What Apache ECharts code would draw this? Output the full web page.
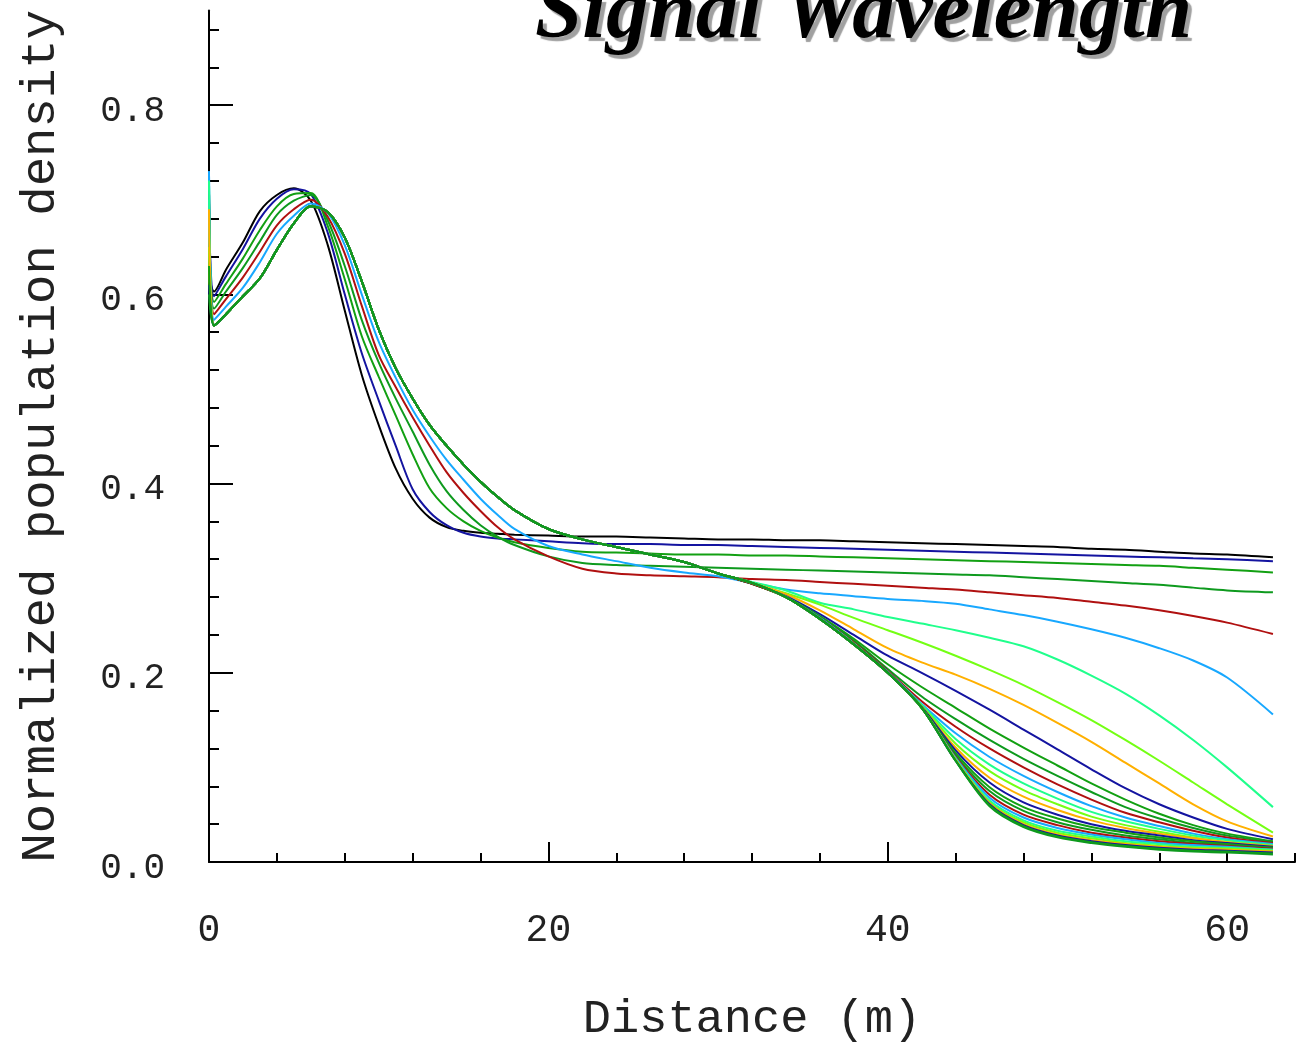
<!DOCTYPE html>
<html>
<head>
<meta charset="utf-8">
<script src="https://cdn.jsdelivr.net/npm/echarts@6/dist/echarts.min.js"></script>
<style>
  html, body { margin: 0; padding: 0; background: #ffffff; }
  #chart { width: 1301px; height: 1048px; }
</style>
</head>
<body>
<div id="chart"></div>
<script>
// Sample positions along the fibre (m)
const distance = [0, 0.3, 1, 2, 3, 4, 5, 6, 7, 8, 9, 10, 11, 12, 13, 14, 15, 16, 17, 18,
  20, 22, 24, 26, 28, 30, 32, 34, 36, 38, 40, 42, 44, 46, 48, 50, 52, 54, 56, 58, 60, 62.7];

// First six signals: full profiles
const signal01 = [0.62, 0.603, 0.626, 0.655, 0.688, 0.705, 0.712, 0.699, 0.652, 0.583, 0.515, 0.462, 0.416, 0.384, 0.364, 0.354, 0.35, 0.348, 0.347, 0.346,
  0.345, 0.344, 0.344, 0.343, 0.342, 0.341, 0.341, 0.34, 0.34, 0.339, 0.338, 0.337, 0.336, 0.335, 0.334, 0.333, 0.331, 0.33, 0.328, 0.326, 0.325, 0.322];
const signal02 = [0.69, 0.598, 0.619, 0.648, 0.68, 0.701, 0.711, 0.706, 0.665, 0.6, 0.538, 0.488, 0.44, 0.394, 0.37, 0.356, 0.348, 0.344, 0.342, 0.341,
  0.339, 0.337, 0.336, 0.336, 0.335, 0.335, 0.334, 0.333, 0.332, 0.331, 0.33, 0.329, 0.328, 0.327, 0.326, 0.325, 0.324, 0.323, 0.322, 0.321, 0.32, 0.318];
const signal03 = [0.65, 0.592, 0.611, 0.638, 0.668, 0.693, 0.706, 0.707, 0.672, 0.616, 0.556, 0.513, 0.472, 0.431, 0.395, 0.374, 0.36, 0.35, 0.343, 0.338,
  0.332, 0.328, 0.327, 0.326, 0.325, 0.325, 0.324, 0.324, 0.323, 0.322, 0.321, 0.32, 0.319, 0.318, 0.317, 0.316, 0.315, 0.314, 0.313, 0.311, 0.309, 0.306];
const signal04 = [0.63, 0.585, 0.603, 0.628, 0.656, 0.684, 0.699, 0.705, 0.678, 0.63, 0.573, 0.528, 0.49, 0.455, 0.42, 0.392, 0.372, 0.356, 0.344, 0.335,
  0.323, 0.316, 0.314, 0.313, 0.312, 0.311, 0.31, 0.309, 0.308, 0.307, 0.306, 0.305, 0.304, 0.303, 0.301, 0.299, 0.297, 0.295, 0.293, 0.29, 0.287, 0.285];
const signal05 = [0.71, 0.579, 0.595, 0.618, 0.645, 0.673, 0.69, 0.7, 0.682, 0.643, 0.588, 0.536, 0.502, 0.47, 0.44, 0.412, 0.39, 0.371, 0.354, 0.341,
  0.323, 0.31, 0.305, 0.303, 0.302, 0.301, 0.299, 0.298, 0.296, 0.294, 0.292, 0.29, 0.288, 0.285, 0.282, 0.279, 0.275, 0.271, 0.266, 0.26, 0.253, 0.241];
const signal06 = [0.73, 0.573, 0.587, 0.607, 0.634, 0.664, 0.683, 0.696, 0.686, 0.652, 0.6, 0.55, 0.512, 0.478, 0.45, 0.425, 0.404, 0.384, 0.367, 0.352,
  0.334, 0.325, 0.318, 0.311, 0.306, 0.302, 0.295, 0.288, 0.284, 0.281, 0.278, 0.276, 0.273, 0.267, 0.261, 0.254, 0.246, 0.237, 0.226, 0.213, 0.195, 0.156];

// Remaining signals share one leading profile (x = 0.3 … 28 m)
const sharedLead = [0.567, 0.579, 0.598, 0.617, 0.647, 0.675, 0.693, 0.687, 0.66, 0.614, 0.563, 0.522, 0.49, 0.462, 0.44, 0.42, 0.402, 0.386, 0.372,
  0.352, 0.341, 0.333, 0.325, 0.317];

// Launch value at x = 0 for each of signals 7 … 28
const launchValue = [0.72, 0.7, 0.68, 0.67, 0.66, 0.64, 0.7, 0.73, 0.72, 0.66, 0.69, 0.71, 0.67, 0.68, 0.64, 0.7, 0.72, 0.65, 0.69, 0.61, 0.63, 0.6];

// Tails of signals 7 … 28 (x = 30 … 62.7 m)
const tails = [
  [0.305, 0.296, 0.287, 0.274, 0.267, 0.259, 0.252, 0.245, 0.237, 0.228, 0.214, 0.197, 0.178, 0.155, 0.129, 0.1, 0.058],
  [0.305, 0.295, 0.284, 0.272, 0.258, 0.245, 0.232, 0.218, 0.203, 0.187, 0.169, 0.15, 0.129, 0.107, 0.084, 0.061, 0.031],
  [0.305, 0.295, 0.283, 0.266, 0.246, 0.226, 0.211, 0.198, 0.183, 0.166, 0.147, 0.127, 0.105, 0.083, 0.061, 0.043, 0.027],
  [0.305, 0.294, 0.281, 0.262, 0.24, 0.218, 0.2, 0.181, 0.161, 0.14, 0.119, 0.098, 0.078, 0.061, 0.047, 0.035, 0.024],
  [0.305, 0.294, 0.28, 0.26, 0.236, 0.209, 0.185, 0.163, 0.141, 0.121, 0.102, 0.083, 0.066, 0.051, 0.039, 0.03, 0.022],
  [0.305, 0.294, 0.28, 0.259, 0.234, 0.204, 0.175, 0.151, 0.129, 0.109, 0.091, 0.074, 0.058, 0.046, 0.036, 0.028, 0.021],
  [0.305, 0.294, 0.28, 0.258, 0.232, 0.202, 0.17, 0.143, 0.12, 0.1, 0.082, 0.066, 0.052, 0.042, 0.033, 0.026, 0.02],
  [0.305, 0.295, 0.28, 0.258, 0.231, 0.201, 0.167, 0.136, 0.111, 0.091, 0.074, 0.059, 0.047, 0.038, 0.03, 0.024, 0.019],
  [0.305, 0.295, 0.28, 0.257, 0.231, 0.2, 0.166, 0.13, 0.103, 0.083, 0.067, 0.053, 0.043, 0.035, 0.028, 0.023, 0.018],
  [0.305, 0.295, 0.28, 0.257, 0.23, 0.2, 0.165, 0.125, 0.096, 0.076, 0.061, 0.048, 0.039, 0.032, 0.026, 0.021, 0.017],
  [0.305, 0.295, 0.28, 0.257, 0.23, 0.2, 0.164, 0.121, 0.089, 0.069, 0.055, 0.044, 0.036, 0.03, 0.025, 0.021, 0.017],
  [0.305, 0.295, 0.28, 0.257, 0.23, 0.2, 0.164, 0.118, 0.084, 0.063, 0.05, 0.04, 0.033, 0.028, 0.023, 0.02, 0.016],
  [0.305, 0.295, 0.28, 0.257, 0.23, 0.2, 0.163, 0.115, 0.079, 0.058, 0.046, 0.037, 0.031, 0.026, 0.022, 0.019, 0.015],
  [0.305, 0.295, 0.28, 0.257, 0.23, 0.2, 0.163, 0.113, 0.075, 0.054, 0.042, 0.034, 0.028, 0.024, 0.02, 0.018, 0.015],
  [0.305, 0.295, 0.28, 0.257, 0.23, 0.2, 0.163, 0.111, 0.071, 0.05, 0.039, 0.031, 0.026, 0.022, 0.019, 0.017, 0.014],
  [0.305, 0.295, 0.28, 0.257, 0.23, 0.2, 0.163, 0.11, 0.068, 0.047, 0.036, 0.029, 0.024, 0.02, 0.018, 0.016, 0.013],
  [0.305, 0.295, 0.28, 0.257, 0.23, 0.2, 0.163, 0.109, 0.065, 0.044, 0.033, 0.027, 0.022, 0.019, 0.016, 0.015, 0.013],
  [0.305, 0.295, 0.28, 0.257, 0.23, 0.2, 0.163, 0.108, 0.063, 0.042, 0.031, 0.025, 0.02, 0.017, 0.015, 0.014, 0.012],
  [0.305, 0.295, 0.28, 0.257, 0.23, 0.2, 0.163, 0.108, 0.062, 0.04, 0.029, 0.023, 0.019, 0.016, 0.014, 0.013, 0.011],
  [0.305, 0.295, 0.28, 0.257, 0.23, 0.2, 0.163, 0.107, 0.061, 0.039, 0.028, 0.022, 0.018, 0.015, 0.013, 0.012, 0.01],
  [0.305, 0.295, 0.28, 0.257, 0.23, 0.2, 0.163, 0.107, 0.06, 0.038, 0.027, 0.021, 0.017, 0.014, 0.012, 0.011, 0.009],
  [0.305, 0.295, 0.28, 0.257, 0.23, 0.2, 0.163, 0.107, 0.059, 0.037, 0.026, 0.02, 0.016, 0.013, 0.011, 0.01, 0.008]
];

// Tick labels
const xLabelValues = [0, 20, 40, 60];
const yLabelValues = [0, 0.2, 0.4, 0.6, 0.8];

// Line colours: the first signal is black, the rest cycle through this set
const firstColor = '#000000';
const cycleColors = ['#1414a0', '#12a012', '#0e9a1e', '#b01010', '#18a8ff', '#20ff8c', '#74ff14', '#ffb000'];

// Minor tick positions
const xMinorTicks = [];
for (let v = 0; v <= 64; v += 4) xMinorTicks.push(v);
const yMinorTicks = [];
for (let k = 0; k * 0.04 <= 0.885; k++) yMinorTicks.push(+(k * 0.04).toFixed(2));

const fullProfiles = [signal01, signal02, signal03, signal04, signal05, signal06];

function profileFor(k) {
  if (k < fullProfiles.length) return fullProfiles[k];
  const j = k - fullProfiles.length;
  return [launchValue[j]].concat(sharedLead, tails[j]);
}

const signalCount = fullProfiles.length + tails.length;
const series = [];
for (let k = 0; k < signalCount; k++) {
  const ys = profileFor(k);
  series.push({
    name: 'Signal ' + (k + 1),
    type: 'line',
    xAxisIndex: 0,
    yAxisIndex: 0,
    data: distance.map((x, i) => [x, ys[i]]),
    showSymbol: false,
    symbol: 'none',
    smooth: 0.3,
    lineStyle: { width: 2, color: k === 0 ? firstColor : cycleColors[(k - 1) % cycleColors.length] },
    emphasis: { disabled: true },
    animation: false
  });
}

const monoFont = "'Liberation Mono', 'DejaVu Sans Mono', monospace";
const axisInk = '#000000';

const chart = echarts.init(document.getElementById('chart'), null, { renderer: 'canvas' });
chart.setOption({
  backgroundColor: '#ffffff',
  animation: false,
  title: {
    text: 'Signal Wavelength',
    left: 530,
    top: -32,
    textStyle: {
      fontFamily: "'Liberation Serif', 'DejaVu Serif', serif",
      fontStyle: 'italic',
      fontWeight: 'bold',
      fontSize: 85,
      color: '#000000',
      textShadowColor: '#a0a0a0',
      textShadowOffsetX: 4,
      textShadowOffsetY: 4,
      textShadowBlur: 1
    }
  },
  grid: { left: 209, right: 6, top: 10.5, bottom: 182 },
  xAxis: [
    {
      type: 'value', min: 0, max: 64, interval: 4, position: 'bottom',
      axisLine: { show: true, onZero: false, lineStyle: { color: axisInk, width: 2 } },
      axisTick: { show: true, inside: true, length: 9, customValues: xMinorTicks, lineStyle: { color: axisInk, width: 2 } },
      axisLabel: { customValues: xLabelValues, margin: 50, fontFamily: monoFont, fontSize: 38, color: '#222222' },
      splitLine: { show: false },
      name: 'Distance (m)', nameLocation: 'middle', nameGap: 134,
      nameTextStyle: { fontFamily: monoFont, fontSize: 47, color: '#222222' }
    },
    {
      type: 'value', min: 0, max: 64, interval: 20, position: 'bottom',
      axisLine: { show: false },
      axisTick: { show: true, inside: true, length: 20, customValues: xLabelValues, lineStyle: { color: axisInk, width: 2 } },
      axisLabel: { show: false },
      splitLine: { show: false }
    }
  ],
  yAxis: [
    {
      type: 'value', min: 0, max: 0.9, interval: 0.04, position: 'left',
      axisLine: { show: true, onZero: false, lineStyle: { color: axisInk, width: 2 } },
      axisTick: { show: true, inside: true, length: 10, customValues: yMinorTicks, lineStyle: { color: axisInk, width: 2 } },
      axisLabel: {
        customValues: yLabelValues, margin: 44, fontFamily: monoFont, fontSize: 36, color: '#222222',
        verticalAlign: 'top', lineHeight: 12,
        formatter: v => v.toFixed(1)
      },
      splitLine: { show: false },
      name: 'Normalized population density', nameLocation: 'middle', nameGap: 143,
      nameTextStyle: { fontFamily: monoFont, fontSize: 49, color: '#222222' }
    },
    {
      type: 'value', min: 0, max: 0.9, interval: 0.2, position: 'left',
      axisLine: { show: false },
      axisTick: { show: true, inside: true, length: 24, customValues: yLabelValues, lineStyle: { color: axisInk, width: 2 } },
      axisLabel: { show: false },
      splitLine: { show: false }
    }
  ],
  series: series
});
</script>
</body>
</html>
